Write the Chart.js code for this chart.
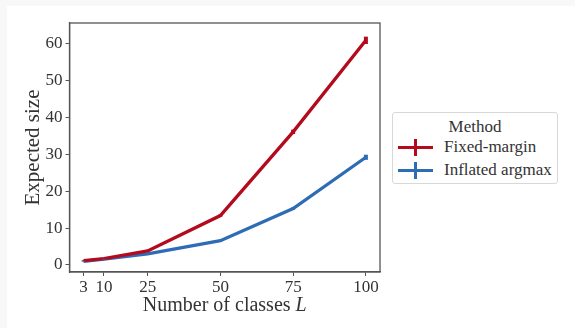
<!DOCTYPE html>
<html>
<head>
<meta charset="utf-8">
<script src="https://cdn.jsdelivr.net/npm/chart.js@4.4.0/dist/chart.umd.min.js"></script>
<style>
  html, body { margin: 0; padding: 0; background: #f8f8f8; width: 575px; height: 328px; overflow: hidden; }
  #panel { position: absolute; left: 7px; top: 6px; width: 568px; height: 322px; background: #fff; }
  #legend { position: absolute; left: 385px; top: 106px; width: 164px; height: 70px; border: 1px solid #d8d8d8; border-radius: 3px;
    font-family: 'Liberation Serif', serif; font-size: 17px; color: #333; background: #fff; }
</style>
</head>
<body>
<div id="panel">
  <canvas id="chart" width="568" height="322"></canvas>
  <div id="legend"></div>
</div>
<script>
const classes = [3, 10, 25, 50, 75, 100];
const xTicks = [3, 10, 25, 50, 75, 100];
const yTicks = [0, 10, 20, 30, 40, 50, 60];
const fixedMargin = [1.2, 1.7, 3.8, 13.4, 36.1, 60.9];
const fixedMarginErr = [0.1, 0.1, 0.2, 0.3, 0.6, 1.0];
const inflatedArgmax = [1.0, 1.6, 3.0, 6.6, 15.3, 29.2];
const inflatedArgmaxErr = [0.1, 0.1, 0.1, 0.2, 0.3, 0.7];
const seriesNames = ['Fixed-margin', 'Inflated argmax'];
const colors = ['#b40a1e', '#2e6cb6'];

const serif = "'Liberation Serif', serif";
const axisColor = '#555';
const textColor = '#333';

const errorBars = {
  id: 'errorBars',
  afterDatasetsDraw(chart) {
    const { ctx, scales: { x, y } } = chart;
    chart.data.datasets.forEach(ds => {
      ctx.save();
      ctx.strokeStyle = ds.borderColor;
      ctx.lineWidth = 4;
      ds.data.forEach((p, i) => {
        const px = x.getPixelForValue(p.x);
        ctx.beginPath();
        ctx.moveTo(px, y.getPixelForValue(p.y - ds.errors[i]));
        ctx.lineTo(px, y.getPixelForValue(p.y + ds.errors[i]));
        ctx.stroke();
      });
      ctx.restore();
    });
  }
};

const frame = {
  id: 'frame',
  afterDraw(chart) {
    const { ctx, chartArea: a } = chart;
    ctx.save();
    ctx.strokeStyle = axisColor;
    ctx.lineWidth = 1.3;
    ctx.strokeRect(a.left, a.top, a.right - a.left, a.bottom - a.top);
    // x title with italic L
    const part1 = 'Number of classes ';
    ctx.font = '20px ' + serif;
    const w1 = ctx.measureText(part1).width;
    ctx.font = 'italic 20px ' + serif;
    const w2 = ctx.measureText('L').width;
    const sx = (a.left + a.right) / 2 - (w1 + w2) / 2;
    ctx.fillStyle = textColor;
    ctx.textBaseline = 'middle';
    ctx.font = '20px ' + serif;
    ctx.fillText(part1, sx, 300);
    ctx.font = 'italic 20px ' + serif;
    ctx.fillText('L', sx + w1, 300);
    ctx.restore();
  }
};

new Chart(document.getElementById('chart'), {
  type: 'line',
  data: {
    datasets: [
      { label: seriesNames[0], data: fixedMargin, errors: fixedMarginErr, borderColor: colors[0], backgroundColor: colors[0] },
      { label: seriesNames[1], data: inflatedArgmax, errors: inflatedArgmaxErr, borderColor: colors[1], backgroundColor: colors[1] }
    ].map(ds => ({ ...ds, data: ds.data.map((v, i) => ({ x: classes[i], y: v })), borderWidth: 3.3, pointRadius: 0, tension: 0, fill: false }))
  },
  options: {
    responsive: false,
    animation: false,
    layout: { padding: { left: 0, top: 17, right: 195, bottom: 0 } },
    plugins: { legend: { display: false }, tooltip: { enabled: false } },
    scales: {
      x: {
        type: 'linear',
        min: -1.85,
        max: 104.85,
        afterBuildTicks: s => { s.ticks = xTicks.map(v => ({ value: v })); },
        afterFit: s => { s.height = 56; },
        grid: { drawOnChartArea: false, color: axisColor, tickLength: 4, lineWidth: 1 },
        border: { color: axisColor, width: 1.3 },
        ticks: { color: textColor, font: { family: serif, size: 17 }, padding: 1, maxRotation: 0 }
      },
      y: {
        min: -1.9,
        max: 65.6,
        afterBuildTicks: s => { s.ticks = yTicks.map(v => ({ value: v })); },
        afterFit: s => { s.width = 62.5; },
        grid: { drawOnChartArea: false, color: axisColor, tickLength: 4, lineWidth: 1 },
        border: { color: axisColor, width: 1.3 },
        ticks: { color: textColor, font: { family: serif, size: 17 }, padding: 3 },
        title: { display: true, text: 'Expected size', color: textColor, font: { family: serif, size: 21 }, padding: { top: 14 } }
      }
    }
  },
  plugins: [errorBars, frame]
});

const legend = document.getElementById('legend');
legend.innerHTML = `<div style="text-align:center; margin-top:4px; line-height:19px;">Method</div>` +
  seriesNames.map((name, i) => `
    <div style="position:relative; height:23px;">
      <div style="position:absolute; left:5px; top:10px; width:35px; height:3px; background:${colors[i]};"></div>
      <div style="position:absolute; left:21px; top:3px; width:3px; height:17px; background:${colors[i]};"></div>
      <span style="position:absolute; left:51px; top:1px;">${name}</span>
    </div>`).join('');
</script>
</body>
</html>
